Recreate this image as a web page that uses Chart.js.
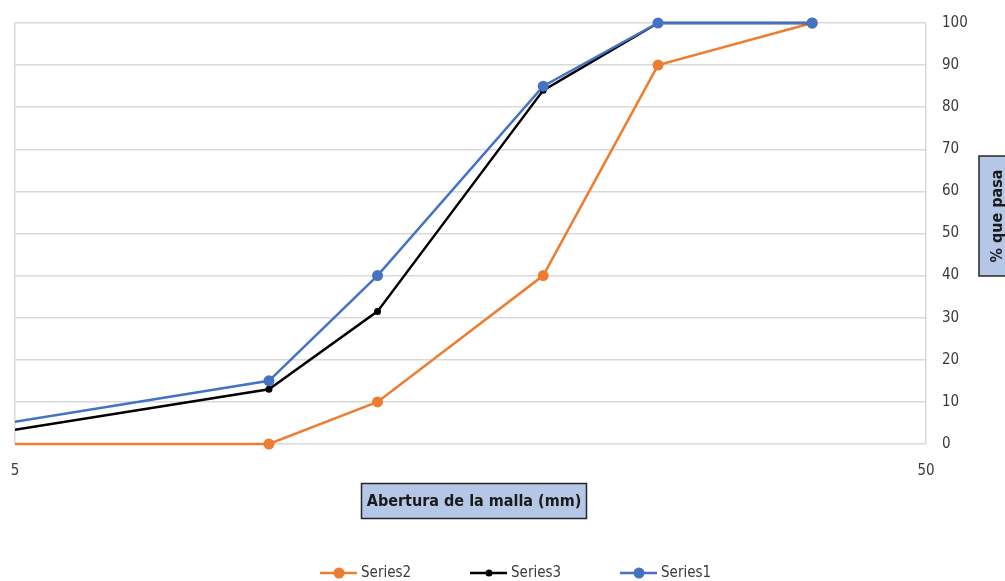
<!DOCTYPE html>
<html>
<head>
<meta charset="utf-8">
<script src="https://cdn.jsdelivr.net/npm/chart.js@4"></script>
<style>
    html, body { margin: 0; padding: 0; background: #fff; }
    #wrap { width: 1005px; height: 581px; position: relative; }
</style>
</head>
<body>
<div id="wrap"><canvas id="granChart"></canvas></div>
<script>
// Curva granulometrica - % que pasa vs abertura de la malla

// ==================== DATA ====================
const sieveSizes = [4.75, 9.5, 12.5, 19, 25.4, 37.5];   // mm
const series1 = [4.5, 15, 40, 85, 100, 100];
const series2 = [0, 0, 10, 40, 90, 100];
const series3 = [2.6, 13, 31.5, 84, 100, 100];
const xTicks = [5, 50];
const yTicks = [0, 10, 20, 30, 40, 50, 60, 70, 80, 90, 100];
const legendOrder = ['Series2', 'Series3', 'Series1'];

const FONT = "'DejaVu Sans Condensed', 'Liberation Sans Narrow', 'Liberation Sans', sans-serif";
const GRID = '#d9d9d9';
const TEXT = '#3a3a3a';

const toPoints = vals => sieveSizes.map((s, i) => ({ x: s, y: vals[i] }));

// ==================== EXTRAS: titulos en caja + leyenda ====================
function boxedText(ctx, text, cx, cy, w, h, rotate) {
    ctx.save();
    ctx.translate(cx, cy);
    if (rotate) ctx.rotate(-Math.PI / 2);
    ctx.fillStyle = '#b4c7e7';
    ctx.fillRect(-w / 2, -h / 2, w, h);
    ctx.strokeStyle = '#262626';
    ctx.lineWidth = 1.5;
    ctx.strokeRect(-w / 2, -h / 2, w, h);
    ctx.fillStyle = '#1a1a1a';
    ctx.font = 'bold 16px ' + FONT;
    ctx.textAlign = 'center';
    ctx.textBaseline = 'middle';
    ctx.fillText(text, 0, 1);
    ctx.restore();
}

const extrasPlugin = {
    id: 'extras',
    afterDraw(chart) {
        const ctx = chart.ctx;
        boxedText(ctx, 'Abertura de la malla (mm)', 474, 501, 225, 35, false);
        boxedText(ctx, '% que pasa', 997, 216, 120, 36, true);

        // leyenda estilo excel: linea con marcador
        ctx.save();
        ctx.font = '15px ' + FONT;
        ctx.textBaseline = 'middle';
        ctx.textAlign = 'left';
        let x = 320;
        const y = 573;
        legendOrder.forEach(name => {
            const ds = chart.data.datasets.find(d => d.label === name);
            ctx.strokeStyle = ds.borderColor;
            ctx.lineWidth = ds.borderWidth;
            ctx.beginPath(); ctx.moveTo(x, y); ctx.lineTo(x + 37, y); ctx.stroke();
            ctx.fillStyle = ds.pointBackgroundColor;
            ctx.beginPath(); ctx.arc(x + 19, y, ds.pointRadius, 0, Math.PI * 2); ctx.fill();
            ctx.fillStyle = TEXT;
            ctx.fillText(name, x + 41, y);
            x += 150;
        });
        ctx.restore();
    }
};

// ==================== CHART ====================
const lineSet = (label, vals, color, r) => ({
    label, data: toPoints(vals),
    borderColor: color, backgroundColor: color,
    pointBackgroundColor: color, pointBorderColor: color,
    borderWidth: 2.5, pointRadius: r, pointHoverRadius: r, pointBorderWidth: 0,
    tension: 0, fill: false,
    clip: { left: 0, top: 8, right: 8, bottom: 8 }
});

// fija el area del grafico: sin relleno extra por las etiquetas
const noPad = s => { s.paddingLeft = 0; s.paddingRight = 0; s.paddingTop = 0; s.paddingBottom = 0; };

new Chart(document.getElementById('granChart'), {
    type: 'line',
    data: {
        // indice 0 se dibuja encima
        datasets: [
            lineSet('Series1', series1, '#4472c4', 5.5),
            lineSet('Series3', series3, '#000000', 3.5),
            lineSet('Series2', series2, '#ed7d31', 5.5)
        ]
    },
    options: {
        responsive: true, maintainAspectRatio: false, animation: false,
        devicePixelRatio: 1,
        layout: { padding: { top: 23, left: 15, right: 0, bottom: 0 } },
        plugins: { legend: { display: false }, tooltip: { enabled: false } },
        scales: {
            x: {
                type: 'logarithmic', min: 5, max: 50,
                afterBuildTicks: s => { s.ticks = xTicks.map(v => ({ value: v })); },
                afterFit: s => { s.height = 137; noPad(s); },
                ticks: { autoSkip: false, maxRotation: 0, padding: 18, color: TEXT, font: { family: FONT, size: 15 }, callback: v => String(v) },
                grid: { color: GRID, lineWidth: 1.5, drawTicks: false },
                border: { display: false }
            },
            y: {
                position: 'right', min: 0, max: 100,
                afterBuildTicks: s => { s.ticks = yTicks.map(v => ({ value: v })); },
                afterFit: s => { s.width = 79; noPad(s); },
                ticks: { padding: 16, color: TEXT, font: { family: FONT, size: 15 } },
                grid: { color: GRID, lineWidth: 1.5, drawTicks: false },
                border: { display: false }
            }
        }
    },
    plugins: [extrasPlugin]
});
</script>
</body>
</html>
